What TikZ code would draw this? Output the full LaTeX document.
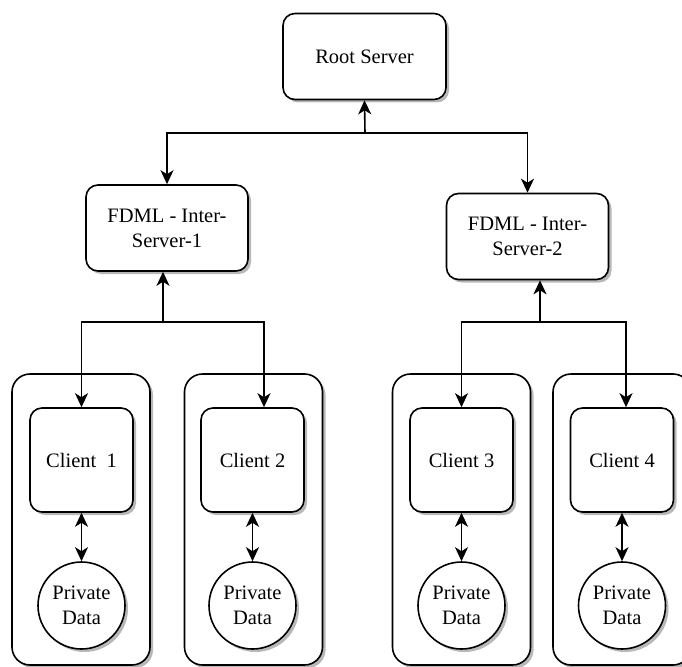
\documentclass[tikz,border=0pt]{standalone}
\usepackage{fontspec}
\setmainfont{Liberation Serif}
\usetikzlibrary{shadows,arrows.meta}
\begin{document}
\begin{tikzpicture}[x=1pt,y=-1pt,
  line width=1.6pt,
  tip/.tip={Stealth[length=14pt,width=13pt,inset=4pt]},
  softshadow/.style={drop shadow={shadow xshift=3pt,shadow yshift=-3pt,fill=black!28,opacity=1}},
  lbl/.style={font=\fontsize{20.5}{25}\selectfont,align=center,inner sep=0pt},
  box/.style={lbl,draw,fill=white,softshadow,rounded corners=12pt},
  server/.style={box,minimum width=162pt,minimum height=86pt},
  client/.style={box,minimum width=103pt,minimum height=104pt},
  group/.style={draw,fill=white,softshadow,rounded corners=18pt,minimum width=138pt,minimum height=291pt,inner sep=0pt},
  store/.style={lbl,draw,circle,fill=white,softshadow,minimum size=87pt},
  link/.style={-tip},
  duplex/.style={tip-tip}
]
\useasboundingbox (0,0) rectangle (682,666);
\clip (0,0) rectangle (682,666);

% client groups
\node[group] (g1) at (81,519.5) {};
\node[group] (g2) at (253.5,519.5) {};
\node[group] (g3) at (461.5,519.5) {};
\node[group] (g4) at (622,519.5) {};

% servers
\node[server,minimum width=163pt] (root) at (364.5,56.5) {Root Server};
\node[server] (is1) at (167,228) {FDML - Inter-\\Server-1};
\node[server] (is2) at (527.5,236.5) {FDML - Inter-\\Server-2};

% clients and their data stores
\node[client] (c1) at (81.5,460) {Client~ 1};
\node[client] (c2) at (252.5,460) {Client 2};
\node[client] (c3) at (461.5,460) {Client 3};
\node[client] (c4) at (622,460) {Client 4};

\node[store] (d1) at (81.5,605.5) {Private\\Data};
\node[store] (d2) at (252.5,605.5) {Private\\Data};
\node[store] (d3) at (461.5,605.5) {Private\\Data};
\node[store] (d4) at (622,605.5) {Private\\Data};

% root level
\coordinate (j0) at (365,133);
\draw[link] (j0) -- (root.south);
\draw[link] (j0) -| (is1.north);
\draw[link] (j0) -| (is2.north);

% first inter-server
\coordinate (j1) at (163,322);
\draw[link] (j1) -- (j1 |- is1.south);
\draw[link] (j1) -| (c1.north);
\draw[link] (j1) -| ([xshift=11.5pt]c2.north);

% second inter-server
\coordinate (j2) at (540,322);
\draw[link] (j2) -- (j2 |- is2.south);
\draw[link] (j2) -| (c3.north);
\draw[link] (j2) -| ([xshift=4pt]c4.north);

% client to private data
\draw[duplex] (c1.south) -- (d1.north);
\draw[duplex] (c2.south) -- (d2.north);
\draw[duplex] (c3.south) -- (d3.north);
\draw[duplex] (c4.south) -- (d4.north);
\end{tikzpicture}
\end{document}
